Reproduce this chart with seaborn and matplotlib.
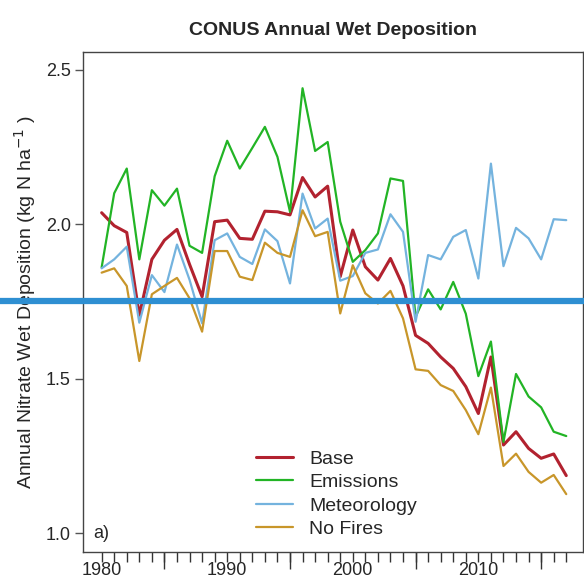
"""
CONUS annual nitrate wet deposition, 1980-2017, four model scenarios.
"""

import numpy as np
import pandas as pd
import matplotlib
matplotlib.use("Agg")
import matplotlib.pyplot as plt
import seaborn as sns

# -----------------------------
# Data
# -----------------------------
years = list(range(1980, 2018))

base = [2.037, 1.995, 1.973, 1.705, 1.886, 1.948, 1.983, 1.870, 1.765, 2.008,
        2.013, 1.954, 1.951, 2.042, 2.040, 2.030, 2.151, 2.088, 2.123, 1.830,
        1.981, 1.862, 1.819, 1.889, 1.800, 1.640, 1.614, 1.570, 1.533, 1.474,
        1.387, 1.570, 1.285, 1.328, 1.274, 1.242, 1.256, 1.186]

emissions = [1.860, 2.100, 2.180, 1.886, 2.110, 2.060, 2.115, 1.930, 1.907, 2.155,
             2.270, 2.180, 2.247, 2.315, 2.218, 2.040, 2.440, 2.237, 2.266, 2.008,
             1.878, 1.916, 1.970, 2.148, 2.140, 1.700, 1.789, 1.724, 1.813, 1.710,
             1.508, 1.620, 1.295, 1.515, 1.442, 1.407, 1.328, 1.314]

meteorology = [1.857, 1.886, 1.927, 1.681, 1.835, 1.780, 1.934, 1.820, 1.679, 1.948,
               1.970, 1.894, 1.871, 1.983, 1.945, 1.808, 2.099, 1.986, 2.018, 1.817,
               1.832, 1.907, 1.918, 2.032, 1.975, 1.684, 1.900, 1.886, 1.959, 1.981,
               1.824, 2.196, 1.864, 1.988, 1.954, 1.886, 2.016, 2.013]

no_fires = [1.843, 1.857, 1.800, 1.557, 1.773, 1.800, 1.826, 1.760, 1.652, 1.913,
            1.913, 1.830, 1.819, 1.940, 1.907, 1.894, 2.045, 1.961, 1.975, 1.711,
            1.867, 1.776, 1.743, 1.784, 1.695, 1.530, 1.525, 1.479, 1.460, 1.398,
            1.320, 1.471, 1.217, 1.257, 1.198, 1.163, 1.188, 1.126]

scenarios = ["Base", "Emissions", "Meteorology", "No Fires"]
colors = ["#B2222F", "#22B425", "#74B3DE", "#C8962A"]
widths = [2.2, 1.6, 1.6, 1.6]

ref_level = 1.75  # horizontal marker line across the figure

df = pd.DataFrame({
    "year": years * 4,
    "value": base + emissions + meteorology + no_fires,
    "scenario": np.repeat(scenarios, len(years)),
})

# -----------------------------
# Plot
# -----------------------------
sns.set_style("ticks")
plt.rcParams["font.family"] = ["Liberation Sans", "DejaVu Sans"]

fig = plt.figure(figsize=(5.84, 5.82), dpi=100)
ax = fig.add_axes([0.142, 0.052, 0.856, 0.859])

for name, col, lw in zip(scenarios, colors, widths):
    sns.lineplot(data=df[df["scenario"] == name], x="year", y="value",
                 color=col, linewidth=lw, label=name, ax=ax)

ax.set_xlim(1978.51, 2018.32)
ax.set_ylim(0.9395, 2.558)

# axis ticks
ax.set_xticks([1980, 1990, 2000, 2010])
ax.set_xticks(years, minor=True)
ax.set_yticks([1.0, 1.5, 2.0, 2.5])
ax.set_yticklabels(["1.0", "1.5", "2.0", "2.5"])
ax.tick_params(axis="x", which="both", length=7.2, width=1.0, labelsize=13,
               color="#333333", pad=0.5)
ax.tick_params(axis="y", length=5.8, width=1.0, labelsize=13, color="#555555", pad=3)

# longer ticks at the half-decades
sec = ax.secondary_xaxis("bottom")
sec.set_xticks([1985, 1995, 2005, 2015])
sec.tick_params(length=12, width=1.0, labelbottom=False, color="#333333")
sec.spines["bottom"].set_visible(False)

for s in ax.spines.values():
    s.set_color("#444444")
    s.set_linewidth(1.0)

ax.set_xlabel("")
ax.set_ylabel("Annual Nitrate Wet Deposition (kg N ha$^{-1}$ )", fontsize=14)
ax.yaxis.set_label_coords(-0.09, 0.5)
ax.set_title("CONUS Annual Wet Deposition", fontsize=14, fontweight="bold", pad=12)

ax.text(0.02, 0.037, "a)", transform=ax.transAxes, fontsize=13, va="center")

ax.legend(loc="lower left", bbox_to_anchor=(0.33, 0.012), frameon=False,
          fontsize=14, handlelength=1.9, handletextpad=0.85, labelspacing=0.3,
          borderaxespad=0)

ax.axhline(ref_level, xmin=-0.2, xmax=1.1, color="#2E8FD2", linewidth=4.5,
           clip_on=False, zorder=5)

plt.savefig("out.png", dpi=100)
